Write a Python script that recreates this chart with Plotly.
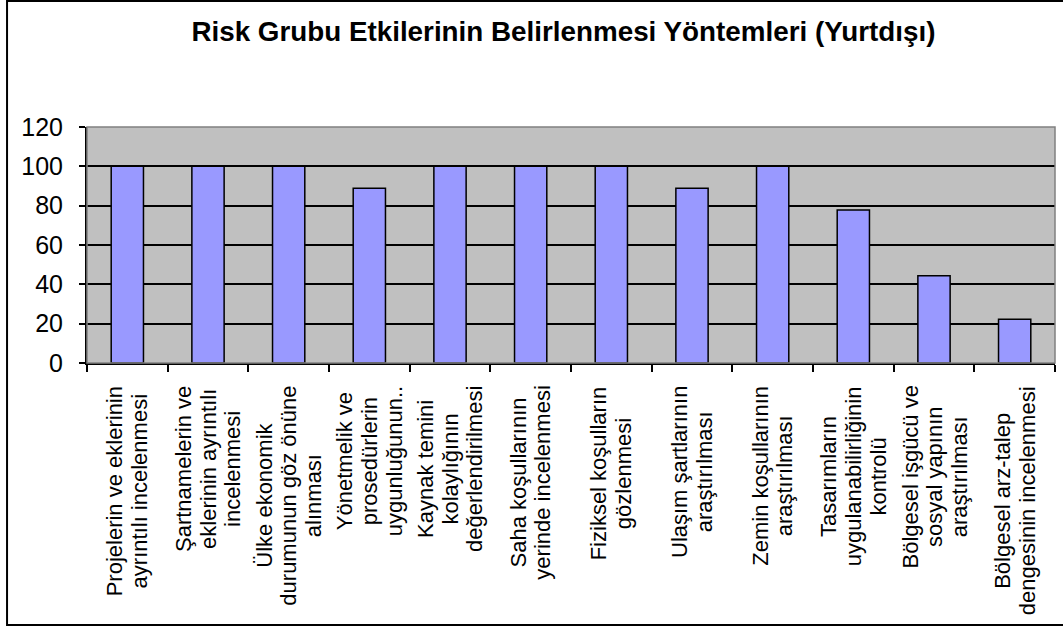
import plotly.graph_objects as go

# ---- data ----
categories = [
    "Projelerin ve eklerinin ayrıntılı incelenmesi",
    "Şartnamelerin ve eklerinin ayrıntılı incelenmesi",
    "Ülke ekonomik durumunun göz önüne alınması",
    "Yönetmelik ve prosedürlerin uygunluğunun..",
    "Kaynak temini kolaylığının değerlendirilmesi",
    "Saha koşullarının yerinde incelenmesi",
    "Fiziksel koşulların gözlenmesi",
    "Ulaşım şartlarının araştırılması",
    "Zemin koşullarının araştırılması",
    "Tasarımların uygulanabilirliğinin kontrolü",
    "Bölgesel işgücü ve sosyal yapının araştırılması",
    "Bölgesel arz-talep dengesinin incelenmesi",
]
tick_label_lines = [
    ["Projelerin ve eklerinin", "ayrıntılı incelenmesi"],
    ["Şartnamelerin ve", "eklerinin ayrıntılı", "incelenmesi"],
    ["Ülke ekonomik", "durumunun göz önüne", "alınması"],
    ["Yönetmelik ve", "prosedürlerin", "uygunluğunun.."],
    ["Kaynak temini", "kolaylığının", "değerlendirilmesi"],
    ["Saha koşullarının", "yerinde incelenmesi"],
    ["Fiziksel koşulların", "gözlenmesi"],
    ["Ulaşım şartlarının", "araştırılması"],
    ["Zemin koşullarının", "araştırılması"],
    ["Tasarımların", "uygulanabilirliğinin", "kontrolü"],
    ["Bölgesel işgücü ve", "sosyal yapının", "araştırılması"],
    ["Bölgesel arz-talep", "dengesinin incelenmesi"],
]
values = [100, 100, 100, 88.9, 100, 100, 100, 88.9, 100, 77.8, 44.4, 22.2]
y_ticks = [0, 20, 40, 60, 80, 100, 120]
title_text = "Risk Grubu Etkilerinin Belirlenmesi Yöntemleri (Yurtdışı)"

FONT = "Arial, 'Liberation Sans', sans-serif"

fig = go.Figure()
fig.add_trace(go.Bar(
    x=categories, y=values, width=0.4,
    marker=dict(color="#9999FF", line=dict(color="black", width=1.5)),
    showlegend=False, hoverinfo="skip",
))

annotations = []
for cat, lines in zip(categories, tick_label_lines):
    text = "<br>".join("<span style='font-size:22px'>" + ln + "</span>" for ln in lines)
    annotations.append(dict(
        x=cat, xref="x", y=0, yref="paper", yshift=-21,
        text=text, textangle=-90, showarrow=False,
        xanchor="center", yanchor="top", align="center",
        font=dict(family=FONT, size=19, color="black"),
    ))

shapes = [
    # plot-area top/right border (grey)
    dict(type="rect", xref="paper", yref="paper", x0=0, x1=1, y0=0, y1=1,
         line=dict(color="#808080", width=1.5), fillcolor="rgba(0,0,0,0)", layer="above"),
    # outer chart frame: left, top and bottom edges (right edge lies outside the picture)
    dict(type="path", xref="paper", yref="paper",
         path="M 1.2,1.534 L -0.0826,1.534 L -0.0826,-1.110 L 1.2,-1.110",
         line=dict(color="black", width=2), fillcolor="rgba(0,0,0,0)", layer="below"),
]

fig.update_layout(
    width=1063, height=632,
    margin=dict(l=87, r=8, t=127, b=269),
    paper_bgcolor="white", plot_bgcolor="#C0C0C0",
    font=dict(family=FONT, color="black"),
    title=dict(text="<b>" + title_text + "</b>", x=0.530, xanchor="center",
               y=0.950, yanchor="middle", yref="container",
               font=dict(family=FONT, size=27.8, color="black")),
    annotations=annotations, shapes=shapes,
    bargap=0.6,
)
fig.update_xaxes(
    type="category", showticklabels=False, showgrid=False, zeroline=False,
    showline=True, linecolor="black", linewidth=2,
    ticks="outside", tickson="boundaries", ticklen=7, tickwidth=1.5, tickcolor="black",
)
fig.update_yaxes(
    range=[0, 120], tickvals=y_ticks, ticktext=[str(v) for v in y_ticks],
    showgrid=True, gridcolor="black", gridwidth=1.5, zeroline=False,
    showline=True, linecolor="black", linewidth=2,
    ticks="outside", ticklen=6, tickwidth=1.5, tickcolor="black",
    ticklabelstandoff=11,
    tickfont=dict(family=FONT, size=25, color="black"),
)

fig.write_html("out.html", config={"displayModeBar": False})

# remove default page margin so the figure sits at the window origin
with open("out.html", "r", encoding="utf-8") as f:
    html = f.read()
html = html.replace("<head>", "<head><style>html,body{margin:0;padding:0;overflow:hidden;}</style>", 1)
with open("out.html", "w", encoding="utf-8") as f:
    f.write(html)
